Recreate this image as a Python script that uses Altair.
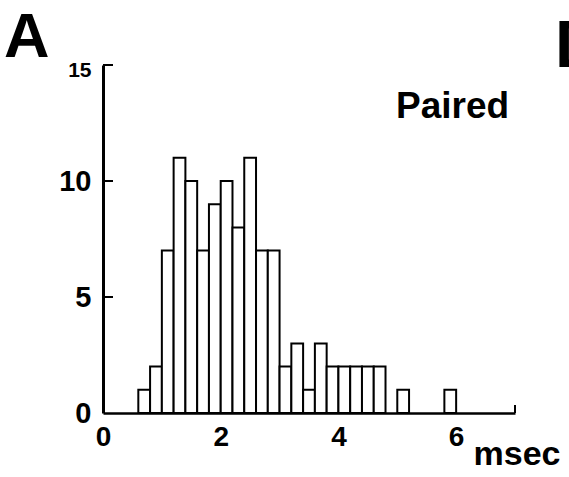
import altair as alt
import pandas as pd

# Histogram of latencies (msec), bin width 0.2
bin_starts = [0.6, 0.8, 1.0, 1.2, 1.4, 1.6, 1.8, 2.0, 2.2, 2.4, 2.6, 2.8, 3.0, 3.2,
              3.4, 3.6, 3.8, 4.0, 4.2, 4.4, 4.6, 4.8, 5.0, 5.2, 5.4, 5.6, 5.8]
counts = [1, 2, 7, 11, 10, 7, 9, 10, 8, 11, 7, 7, 2, 3,
          1, 3, 2, 2, 2, 2, 2, 0, 1, 0, 0, 0, 1]
bin_width = 0.2
x_ticks = [0, 2, 4, 6]
y_ticks = [0, 5, 10, 15]
x_label = "msec"
panel_label = "A"
next_panel_label = "D"
condition_label = "Paired"

df = pd.DataFrame({"start": bin_starts, "count": counts})
df["end"] = df["start"] + bin_width
df = df[df["count"] > 0]

FONT = "Liberation Sans"
W, H = 412, 348

xs = alt.Scale(domain=[0, 7], nice=False, zero=False)
ys = alt.Scale(domain=[0, 15], nice=False)

bars = alt.Chart(df).mark_bar(
    fill="white", stroke="black", strokeWidth=2, cornerRadius=0
).encode(
    x=alt.X("start:Q", scale=xs, axis=alt.Axis(
        values=x_ticks, format="d", domain=True, domainColor="black", domainWidth=2.5,
        ticks=False, grid=False, labelFont=FONT, labelFontSize=28, labelFontWeight="bold",
        labelColor="black", labelPadding=10, labelFlush=False,
        title=x_label, titleFont=FONT, titleFontSize=34, titleFontWeight="bold",
        titleColor="black", titleAlign="left", titleBaseline="alphabetic",
        titleX=370, titleY=51, titleAnchor="start")),
    x2="end:Q",
    y=alt.Y("count:Q", scale=ys, axis=alt.Axis(
        values=y_ticks, format="d", domain=True, domainColor="black", domainWidth=3,
        ticks=False, grid=False, labelFont=FONT, labelFontWeight="bold",
        labelFontSize={"condition": {"test": "datum.value == 15", "value": 21}, "value": 29},
        labelOffset={"condition": {"test": "datum.value == 15", "value": 5}, "value": 0},
        labelColor="black", labelPadding=12, labelFlush=False, title=None)),
    y2=alt.datum(0),
)

tick_df = pd.DataFrame({"v": [5, 10, 15]})
yticks = alt.Chart(tick_df).mark_rule(color="black", strokeWidth=2).encode(
    y=alt.Y("v:Q", scale=ys),
    x=alt.value(0),
    x2=alt.value(10),
)

end_tick = alt.Chart(pd.DataFrame({"v": [7]})).mark_rule(color="black", strokeWidth=2).encode(
    x=alt.X("v:Q", scale=xs),
    y=alt.value(H),
    y2=alt.value(H - 8),
)

a_txt = alt.Chart(pd.DataFrame({"t": [panel_label]})).mark_text(
    font=FONT, fontWeight="bold", fontSize=63, align="left", baseline="alphabetic", color="black"
).encode(text="t:N", x=alt.value(-99), y=alt.value(-8))
d_txt = alt.Chart(pd.DataFrame({"t": [next_panel_label]})).mark_text(
    font=FONT, fontWeight="bold", fontSize=66, align="left", baseline="alphabetic", color="black"
).encode(text="t:N", x=alt.value(452), y=alt.value(2))
p_txt = alt.Chart(pd.DataFrame({"t": [condition_label]})).mark_text(
    font=FONT, fontWeight="bold", fontSize=37, align="left", baseline="alphabetic", color="black"
).encode(text="t:N", x=alt.value(293), y=alt.value(53))

chart = alt.layer(bars, yticks, end_tick, a_txt, d_txt, p_txt).properties(
    width=W, height=H,
    autosize=alt.AutoSizeParams(type="none"),
    padding={"left": 103, "top": 65, "right": 54, "bottom": 64},
    background="white",
).configure_view(stroke=None)

chart.save("out.html", embed_options={"renderer": "svg", "actions": False})
